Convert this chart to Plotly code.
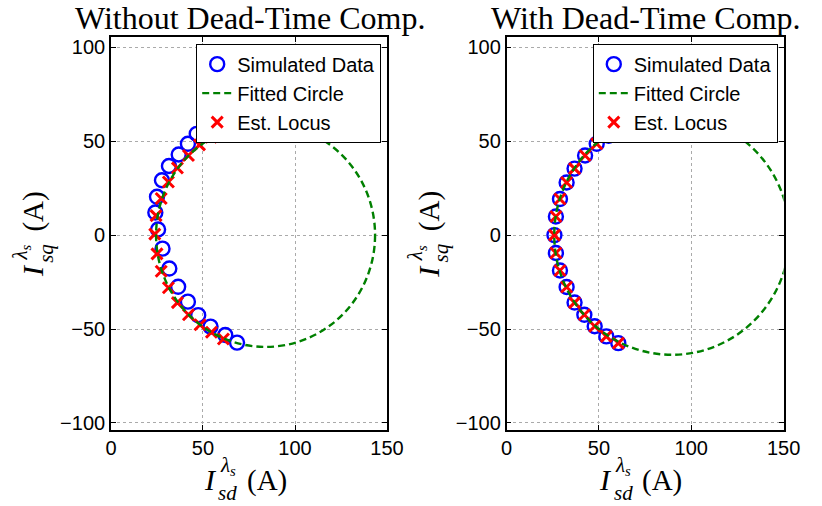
import plotly.graph_objects as go

# ---------------- data ----------------
x_ticks = [0, 50, 100, 150]
y_ticks = [-100, -50, 0, 50, 100]

# Without dead-time compensation
sim_x_wo = [52.4, 46.6, 41.8, 36.8, 31.5, 27.7, 25.0, 24.1, 25.6, 28.0, 31.7, 36.5, 41.8, 47.4, 54.1, 62.1, 68.5]
sim_y_wo = [57.0, 53.9, 48.6, 42.9, 36.8, 29.2, 20.4, 12.0, 3.0, -7.2, -17.8, -27.5, -35.4, -42.6, -48.7, -53.2, -57.2]
est_x_wo = [61.1, 54.4, 48.1, 42.1, 36.1, 31.2, 27.3, 24.5, 23.8, 25.0, 27.3, 31.2, 36.1, 42.1, 48.4, 54.6, 61.1]
est_y_wo = [55.1, 52.1, 48.0, 42.4, 35.7, 28.3, 19.5, 10.4, 0.5, -10.0, -19.2, -28.0, -35.9, -42.4, -47.7, -51.7, -55.3]
circle_wo = {"cx": 84.0, "cy": 0.0, "r": 59.5}

# With dead-time compensation
sim_x_w = [61.4, 55.3, 48.8, 42.5, 36.8, 32.5, 28.9, 26.7, 25.9, 26.7, 28.9, 32.5, 36.8, 42.1, 47.7, 54.0, 60.5]
sim_y_w = [56.0, 52.9, 48.6, 42.4, 35.4, 28.0, 19.2, 9.9, 0.0, -9.5, -18.8, -27.6, -35.9, -42.4, -48.5, -53.9, -57.5]
est_x_w = [61.4, 55.3, 48.8, 42.5, 36.8, 32.5, 28.9, 26.7, 25.9, 26.7, 28.9, 32.5, 36.8, 42.1, 47.7, 54.0, 60.5]
est_y_w = [56.0, 52.9, 48.6, 42.4, 35.4, 28.0, 19.2, 9.9, 0.0, -9.5, -18.8, -27.6, -35.9, -42.4, -48.5, -53.9, -57.5]
circle_w = {"cx": 89.5, "cy": 0.0, "r": 63.7}

titles = ["Without Dead-Time Comp.", "With Dead-Time Comp."]
names = ["Simulated Data", "Fitted Circle", "Est. Locus"]

# ---------------- styles ----------------
BLUE = "#0000ff"
GREEN = "#008000"
RED = "#ff0000"
SANS = "Liberation Sans, Arial, sans-serif"
SERIF = "Liberation Serif, Times New Roman, serif"
DASH = "7px,4px"

fig = go.Figure()

panels = [
    (sim_x_wo, sim_y_wo, est_x_wo, est_y_wo, circle_wo, "x", "y", "legend"),
    (sim_x_w, sim_y_w, est_x_w, est_y_w, circle_w, "x2", "y2", "legend2"),
]

for sx, sy, ex, ey, circ, xa, ya, lg in panels:
    fig.add_trace(go.Scatter(
        x=sx, y=sy, mode="markers", name=names[0], xaxis=xa, yaxis=ya, legend=lg,
        marker=dict(symbol="circle-open", size=14, color=BLUE, line=dict(width=2.4, color=BLUE)),
    ))
    fig.add_trace(go.Scatter(
        x=[None], y=[None], mode="lines", name=names[1], xaxis=xa, yaxis=ya, legend=lg,
        line=dict(color=GREEN, width=2.4, dash=DASH),
    ))
    fig.add_trace(go.Scatter(
        x=ex, y=ey, mode="markers", name=names[2], xaxis=xa, yaxis=ya, legend=lg,
        marker=dict(symbol="x-thin-open", size=11, color=RED, line=dict(width=3, color=RED)),
    ))
    fig.add_shape(
        type="circle", xref=xa, yref=ya,
        x0=circ["cx"] - circ["r"], x1=circ["cx"] + circ["r"],
        y0=circ["cy"] - circ["r"], y1=circ["cy"] + circ["r"],
        line=dict(color=GREEN, width=2.4, dash=DASH), layer="above",
    )

axis_common = dict(
    showline=True, linecolor="black", linewidth=1.6, mirror="ticks",
    ticks="inside", ticklen=5, tickwidth=1, tickcolor="black",
    showgrid=True, gridcolor="#aaaaaa", griddash="dot", gridwidth=1,
    zeroline=False, tickfont=dict(family=SANS, size=20, color="black"),
)

W, H = 822, 506
legend_common = dict(yanchor="top", xanchor="right", bgcolor="white", bordercolor="black",
                     borderwidth=1, font=dict(family=SANS, size=20, color="black"), tracegroupgap=0)
fig.update_layout(
    width=W, height=H, autosize=False,
    margin=dict(l=0, r=0, t=0, b=0),
    paper_bgcolor="white", plot_bgcolor="white",
    xaxis=dict(domain=[108 / W, 392 / W], range=[0, 150], tickvals=x_ticks, anchor="y", **axis_common),
    yaxis=dict(domain=[1 - 433 / H, 1 - 37 / H], range=[-103.5, 105.6], tickvals=y_ticks, anchor="x", **axis_common),
    xaxis2=dict(domain=[515 / W, 800 / W], range=[0, 150], tickvals=x_ticks, anchor="y2", **axis_common),
    yaxis2=dict(domain=[1 - 433 / H, 1 - 37 / H], range=[-103.5, 105.6], tickvals=y_ticks, anchor="x2", **axis_common),
    legend=dict(x=386 / W, y=1 - 44 / H, **legend_common),
    legend2=dict(x=794 / W, y=1 - 44 / H, **legend_common),
    showlegend=True,
)


def ann(text, px, py, size, angle=0):
    fig.add_annotation(text=text, x=px / W, y=1 - py / H, xref="paper", yref="paper",
                       showarrow=False, xanchor="center", yanchor="middle", textangle=angle,
                       font=dict(family=SERIF, size=size, color="black"))


for dx, title in zip([0, 407], titles):
    ann(title, 251 + dx, 18, 32)
    # x-axis label: I with stacked superscript (lambda_s) and subscript (sd), then (A)
    ann("<i>I</i>", 210 + dx, 483, 30)
    ann("<i>λ</i><sub><i>s</i></sub>", 228 + dx, 470, 21)
    ann("<i>sd</i>", 228 + dx, 497, 21)
    ann("(A)", 268 + dx, 484, 29)
    # y-axis label (rotated)
    ann("<i>I</i>", 28 + dx, 273, 30, -90)
    ann("<i>λ</i><sub><i>s</i></sub>", 15 + dx, 255, 21, -90)
    ann("<i>sq</i>", 41 + dx, 255, 21, -90)
    ann("(A)", 28 + dx, 213, 29, -90)

fig.write_html("out.html", config={"displayModeBar": False},
               post_script="document.body.style.margin='0px';")
